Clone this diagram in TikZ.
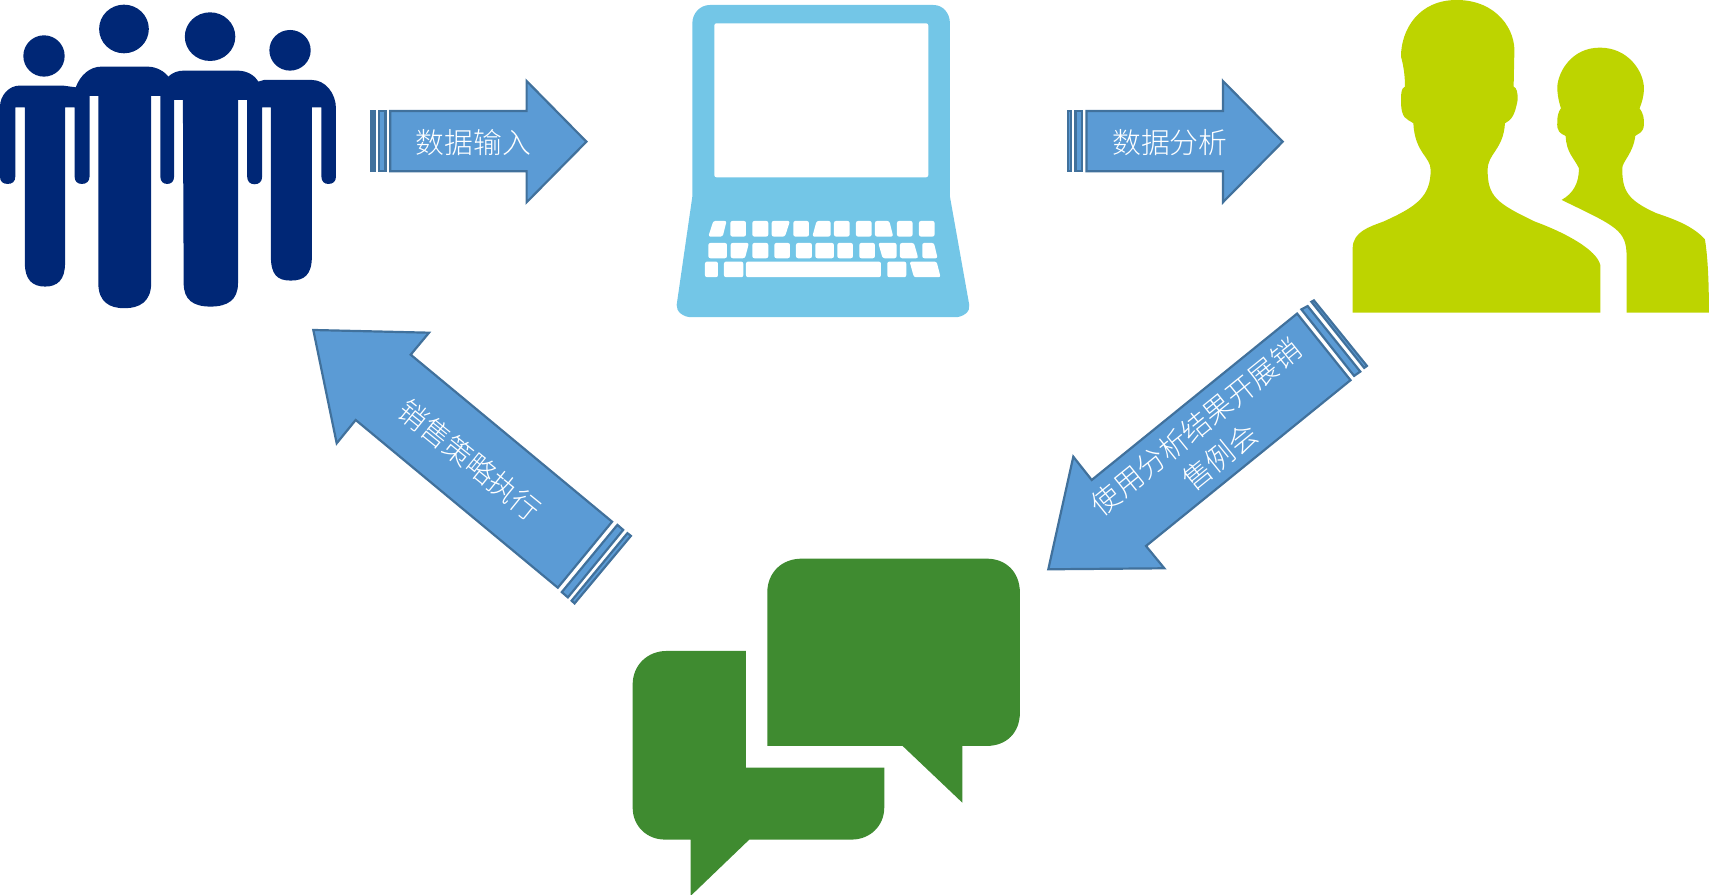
\documentclass[tikz,border=0pt]{standalone}
\usepackage{fontspec}
\newfontfamily\cjk{Noto Sans CJK SC Light}
\definecolor{navy}{HTML}{002776}
\definecolor{laptop}{HTML}{73C6E7}
\definecolor{olive}{HTML}{BDD400}
\definecolor{chat}{HTML}{3F8B30}
\definecolor{flow}{HTML}{5B9BD5}
\definecolor{flowline}{HTML}{41719C}
\tikzset{
  flowarrow/.style={fill=flow,draw=flowline,line width=0.22mm,line join=miter},
  flowtext/.style={text=white,font=\cjk\fontsize{8.2}{11}\selectfont,inner sep=0pt},
  keycap/.style={fill=white,rounded corners=0.6pt}
}
\begin{document}
\begin{tikzpicture}[x=0.1mm,y=-0.1mm]
  \useasboundingbox (0,0) rectangle (1710,895);

  \begin{scope}[x=0.03827mm,y=-0.03333mm]
    \foreach \hx/\hy/\rx/\ry in {115/168/54/62,324/87/65/73,549/110/66/73,758/151/54/61}
      \fill[navy] (\hx,\hy) ellipse [x radius=\rx,y radius=\ry];
    \fill[navy] (0,320) .. controls (0,285) and (25,257) .. (50,257) -- (165,257) -- (198,262)
      .. controls (210,225) and (235,200) .. (265,200) -- (385,200) .. controls (410,200) and (430,215) .. (440,230)
      .. controls (450,218) and (465,212) .. (480,212) -- (620,212) .. controls (645,212) and (665,225) .. (675,245)
      -- (690,240) -- (815,240) .. controls (850,240) and (878,280) .. (878,325)
      -- (878,530) .. controls (878,545) and (870,552) .. (858,552) .. controls (848,552) and (840,545) .. (840,530) -- (840,322) -- (815,322)
      -- (815,770) .. controls (815,825) and (795,842) .. (760,842) .. controls (725,842) and (708,825) .. (708,770) -- (708,322) -- (685,322)
      -- (685,530) .. controls (685,545) and (677,553) .. (665,553) .. controls (654,553) and (646,545) .. (646,530) -- (646,300) -- (622,300)
      -- (622,850) .. controls (622,900) and (595,920) .. (550,920) .. controls (505,920) and (480,900) .. (480,850) -- (478,300) -- (455,300)
      -- (455,530) .. controls (455,545) and (447,552) .. (437,552) .. controls (427,552) and (419,545) .. (419,530) -- (419,288) -- (395,288)
      -- (395,850) .. controls (395,905) and (365,925) .. (325,925) .. controls (285,925) and (257,905) .. (257,850) -- (257,288) -- (234,288)
      -- (234,530) .. controls (234,545) and (225,552) .. (214,552) .. controls (203,552) and (195,545) .. (195,530) -- (195,322) -- (170,322)
      -- (170,790) .. controls (170,840) and (150,860) .. (118,860) .. controls (85,860) and (65,840) .. (65,790) -- (65,322) -- (40,322)
      -- (40,530) .. controls (40,545) and (32,552) .. (20,552) .. controls (8,552) and (0,545) .. (0,530) -- cycle;
  \end{scope}

  \begin{scope}[shift={(660,0)},x=0.03333mm,y=-0.03333mm]
    \fill[laptop] (150,15) -- (820,15) .. controls (850,15) and (870,40) .. (870,70) -- (870,590) -- (928,915)
      .. controls (932,935) and (910,952) .. (885,952) -- (95,952) .. controls (70,952) and (48,935) .. (50,915) -- (97,590) -- (97,70)
      .. controls (97,40) and (120,15) .. (150,15) -- cycle;
    \fill[white,rounded corners=0.6pt] (163,70) rectangle (805,532);
    \foreach \kl/\kr in {211/258,277/325,400/447,522/569,588/635,711/758,777/824}
      \fill[keycap] (\kl,663) rectangle (\kr,710);
    \foreach \kl/\kr in {145/201,277/325,343/390,408/456,466/522,532/579,598/645}
      \fill[keycap] (\kl,729) rectangle (\kr,775);
    \foreach \kl/\kr in {135/174,192/250,258/663,682/739}
      \fill[keycap] (\kl,785) rectangle (\kr,832);
    \fill[keycap] (160,663) -- (200,663) -- (188,710) -- (145,710) -- cycle;
    \fill[keycap] (335,663) -- (390,663) -- (375,710) -- (335,710) -- cycle;
    \fill[keycap] (470,663) -- (512,663) -- (512,710) -- (457,710) -- cycle;
    \fill[keycap] (645,663) -- (688,663) -- (700,710) -- (645,710) -- cycle;
    \fill[keycap] (212,729) -- (267,729) -- (255,775) -- (212,775) -- cycle;
    \fill[keycap] (655,729) -- (710,729) -- (710,775) -- (668,775) -- cycle;
    \fill[keycap] (720,729) -- (762,729) -- (775,775) -- (720,775) -- cycle;
    \fill[keycap] (787,729) -- (822,729) -- (833,775) -- (787,775) -- cycle;
    \fill[keycap] (749,785) -- (830,785) -- (842,832) -- (762,832) -- cycle;
  \end{scope}

  \begin{scope}[shift={(1340,0)},x=0.03333mm,y=-0.03333mm]
    \fill[olive] (38,938) -- (38,745) .. controls (38,695) and (90,680) .. (130,665) .. controls (230,620) and (272,590) .. (272,510)
      .. controls (272,470) and (225,460) .. (220,370) .. controls (200,355) and (183,360) .. (183,300) .. controls (183,275) and (185,265) .. (195,260)
      .. controls (195,225) and (190,195) .. (183,170) .. controls (183,90) and (235,0) .. (350,0) .. controls (470,0) and (530,90) .. (523,165)
      -- (521,260) .. controls (530,262) and (534,280) .. (533,300) .. controls (525,345) and (515,360) .. (495,370)
      .. controls (490,450) and (443,460) .. (443,510) .. controls (443,590) and (470,610) .. (585,665) .. controls (680,700) and (770,750) .. (781,795)
      -- (781,938) -- cycle;
    \fill[olive] (860,938) -- (860,770) .. controls (860,690) and (830,680) .. (665,600) .. controls (700,580) and (717,550) .. (717,505)
      .. controls (700,470) and (680,460) .. (677,408) .. controls (660,400) and (650,395) .. (652,365) .. controls (652,350) and (655,335) .. (663,325)
      .. controls (655,300) and (652,280) .. (652,260) .. controls (655,215) and (695,143) .. (780,143) .. controls (865,143) and (912,215) .. (912,265)
      .. controls (912,290) and (905,310) .. (899,325) .. controls (910,340) and (913,355) .. (912,375) .. controls (910,400) and (895,400) .. (886,408)
      .. controls (880,460) and (847,485) .. (847,505) .. controls (847,570) and (860,600) .. (950,640) .. controls (1010,660) and (1060,680) .. (1095,718)
      .. controls (1105,780) and (1107,860) .. (1107,938) -- cycle;
  \end{scope}

  \begin{scope}[shift={(620,551)},x=0.03333mm,y=-0.03333mm]
    \fill[chat] (442,585) -- (442,125) .. controls (442,65) and (485,23) .. (545,23) -- (1100,23) .. controls (1160,23) and (1200,65) .. (1200,125)
      -- (1200,485) .. controls (1200,545) and (1160,585) .. (1100,585) -- (1027,585) -- (1027,755) -- (848,585) -- cycle;
    \fill[chat] (378,300) -- (140,300) .. controls (80,300) and (38,345) .. (38,400) -- (38,770) .. controls (38,825) and (80,866) .. (135,866)
      -- (212,866) -- (212,1035) -- (388,866) -- (695,866) .. controls (750,866) and (793,825) .. (793,770) -- (793,650) -- (378,650) -- cycle;
  \end{scope}

  \foreach \ax in {0,696.3} {
    \begin{scope}[shift={(\ax,0)}]
      \draw[flowarrow] (371.4,111) rectangle (374.4,171.3);
      \draw[flowarrow] (379.1,111) rectangle (385.5,171.3);
      \draw[flowarrow] (390.2,111) -- (526.6,111) -- (526.6,81) -- (586.4,141.7) -- (526.6,202.3) -- (526.6,171.3) -- (390.2,171.3) -- cycle;
    \end{scope}
  }
  \node[flowtext] (input) at (473.6,143) {数据输入};
  \node[flowtext] (analysis) at (1169.9,143) {数据分析};

  \draw[flowarrow] (1311.4,301.8) -- (1313.9,300.4) -- (1366.9,365.9) -- (1364.2,367.9) -- cycle;
  \draw[flowarrow] (1301.4,309.4) -- (1307.6,306.1) -- (1360.3,371.6) -- (1354.1,375.9) -- cycle;
  \draw[flowarrow] (1297.1,313.6) -- (1091.7,480) -- (1073.3,456.7) -- (1048.3,569.3) -- (1164.3,568.3) -- (1146,546) -- (1350.5,380.2) -- cycle;
  \node[flowtext,rotate=39,align=center] (meeting) at (1208,442) {使用分析结果开展销\\售例会};

  \draw[flowarrow] (627.4,533.2) -- (630.9,535.9) -- (574.6,603.4) -- (571.6,600.7) -- cycle;
  \draw[flowarrow] (617.4,524.9) -- (623.2,529.9) -- (567.9,597.4) -- (561.8,592.1) -- cycle;
  \draw[flowarrow] (612.1,521.7) -- (410.7,354.7) -- (429,332.7) -- (313.3,330) -- (336.7,443.3) -- (355.7,420) -- (557.8,587.7) -- cycle;
  \node[flowtext,rotate=-39] (strategy) at (470,460) {销售策略执行};
\end{tikzpicture}
\end{document}
